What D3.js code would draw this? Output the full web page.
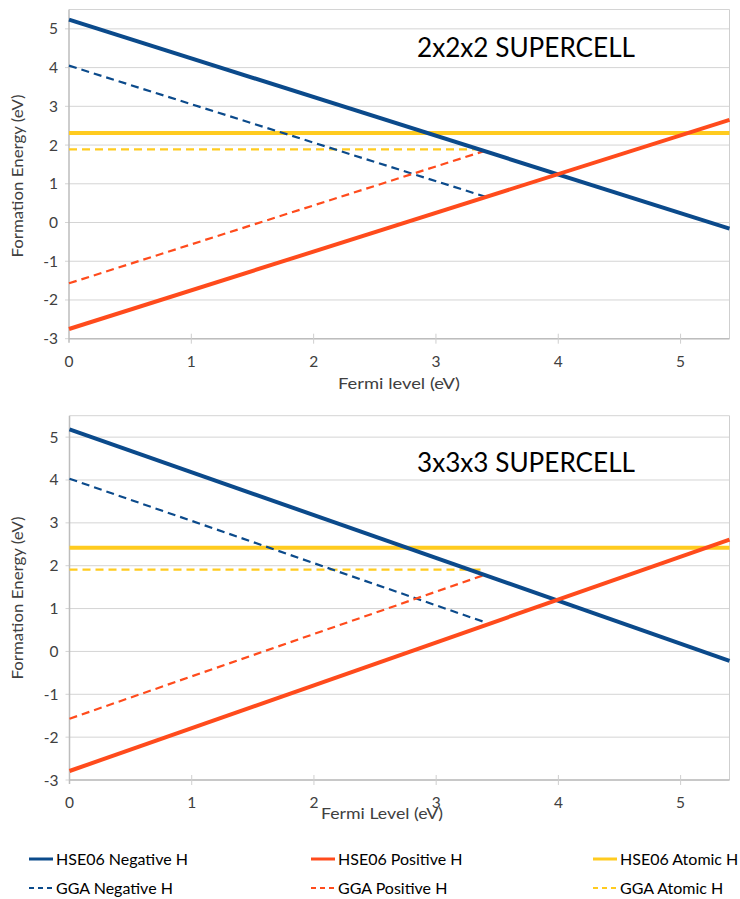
<!DOCTYPE html>
<html>
<head>
<meta charset="utf-8">
<script src="https://cdn.jsdelivr.net/npm/d3@7"></script>
<style>
  body { margin: 0; background: #fff; }
  svg { display: block; font-family: Lato, "Open Sans", sans-serif; }
</style>
</head>
<body>
<div id="chart"></div>
<script>
// x = Fermi level (eV), y = formation energy (eV)
const xTicks = [0, 1, 2, 3, 4, 5]
const yTicks = [-3, -2, -1, 0, 1, 2, 3, 4, 5]

// 2x2x2 supercell
const top_hseNeg = [[0, 5.24], [5.4, -0.16]]
const top_hsePos = [[0, -2.75], [5.4, 2.65]]
const top_hseAtom = [[0, 2.31], [5.4, 2.31]]
const top_ggaNeg = [[0, 4.05], [3.4, 0.67]]
const top_ggaPos = [[0, -1.57], [3.4, 1.85]]
const top_ggaAtom = [[0, 1.89], [3.4, 1.89]]

// 3x3x3 supercell
const bot_hseNeg = [[0, 5.18], [5.4, -0.22]]
const bot_hsePos = [[0, -2.79], [5.4, 2.61]]
const bot_hseAtom = [[0, 2.42], [5.4, 2.42]]
const bot_ggaNeg = [[0, 4.03], [3.4, 0.68]]
const bot_ggaPos = [[0, -1.57], [3.4, 1.79]]
const bot_ggaAtom = [[0, 1.91], [3.4, 1.91]]

const legendItems = [
  { name: "HSE06 Negative H", color: "#0b4a8b", dash: null },
  { name: "HSE06 Positive H", color: "#ff4b1c", dash: null },
  { name: "HSE06 Atomic H", color: "#ffcb1f", dash: null },
  { name: "GGA Negative H", color: "#0b4a8b", dash: "8,5" },
  { name: "GGA Positive H", color: "#ff4b1c", dash: "8,5" },
  { name: "GGA Atomic H", color: "#ffcb1f", dash: "8,5" },
]

const width = 740
const height = 899

const svg = d3
  .select("#chart")
  .append("svg")
  .attr("width", width)
  .attr("height", height)

function drawPanel(p) {
  const x = d3.scaleLinear().domain([0, 5.4]).range([p.left, p.right])
  const y = d3.scaleLinear().domain([-3, 5.5]).range([p.bottom, p.top])
  const g = svg.append("g")

  // gridlines
  g.selectAll("line.grid")
    .data(yTicks.concat([5.5]))
    .enter()
    .append("line")
    .attr("x1", d => (d === 5.5 ? p.left : p.left - 4))
    .attr("x2", p.right)
    .attr("y1", d => y(d))
    .attr("y2", d => y(d))
    .attr("stroke", "#d4d4d4")
    .attr("stroke-width", 1)

  // right border
  g.append("line")
    .attr("x1", p.right).attr("x2", p.right)
    .attr("y1", p.top).attr("y2", p.bottom)
    .attr("stroke", "#cfcfcf")

  // axes lines
  g.append("line")
    .attr("x1", p.left).attr("x2", p.left)
    .attr("y1", p.top).attr("y2", p.bottom + 4)
    .attr("stroke", "#bdbdbd").attr("stroke-width", 1.5)
  g.append("line")
    .attr("x1", p.left).attr("x2", p.right)
    .attr("y1", p.bottom).attr("y2", p.bottom)
    .attr("stroke", "#bdbdbd").attr("stroke-width", 1.5)

  // x tick marks
  g.selectAll("line.xt")
    .data(xTicks.slice(1))
    .enter()
    .append("line")
    .attr("x1", d => x(d)).attr("x2", d => x(d))
    .attr("y1", p.bottom - 5).attr("y2", p.bottom + 5)
    .attr("stroke", "#cfcfcf")

  g.selectAll("text.xl")
    .data(xTicks)
    .enter()
    .append("text")
    .attr("x", d => x(d))
    .attr("y", p.bottom + 28)
    .attr("text-anchor", "middle")
    .attr("font-size", 15.5)
    .attr("fill", "#404040")
    .text(d => d)

  g.selectAll("text.yl")
    .data(yTicks)
    .enter()
    .append("text")
    .attr("x", p.left - 11)
    .attr("y", d => y(d) + 5.5)
    .attr("text-anchor", "end")
    .attr("font-size", 15.5)
    .attr("fill", "#404040")
    .text(d => d)

  // axis titles
  g.append("text")
    .attr("x", p.xTitleX)
    .attr("y", p.xTitleY)
    .attr("text-anchor", "middle")
    .attr("font-size", 15)
    .attr("fill", "#404040")
    .attr("textLength", 122)
    .attr("lengthAdjust", "spacingAndGlyphs")
    .text(p.xTitle)

  g.append("text")
    .attr("transform", `translate(23, ${p.yTitleY}) rotate(-90)`)
    .attr("text-anchor", "middle")
    .attr("font-size", 15)
    .attr("fill", "#404040")
    .attr("textLength", 163)
    .attr("lengthAdjust", "spacingAndGlyphs")
    .text("Formation Energy (eV)")

  // series
  const line = d3.line().x(d => x(d[0])).y(d => y(d[1]))
  const series = [
    { data: p.hseAtom, item: legendItems[2], w: 4 },
    { data: p.ggaAtom, item: legendItems[5], w: 2.2 },
    { data: p.ggaNeg, item: legendItems[3], w: 2.2 },
    { data: p.ggaPos, item: legendItems[4], w: 2.2 },
    { data: p.hseNeg, item: legendItems[0], w: 4 },
    { data: p.hsePos, item: legendItems[1], w: 4 },
  ]
  g.selectAll("path.s")
    .data(series)
    .enter()
    .append("path")
    .attr("d", d => line(d.data))
    .attr("fill", "none")
    .attr("stroke", d => d.item.color)
    .attr("stroke-width", d => d.w)
    .attr("stroke-dasharray", d => d.item.dash)

  // panel title
  g.append("text")
    .attr("x", 417)
    .attr("y", p.titleY)
    .attr("font-size", 26)
    .attr("fill", "#000")
    .attr("textLength", 218)
    .attr("lengthAdjust", "spacingAndGlyphs")
    .text(p.title)
}

drawPanel({
  left: 69, right: 729.5, top: 9.5, bottom: 338.7,
  title: "2x2x2 SUPERCELL", titleY: 57,
  xTitle: "Fermi level (eV)", xTitleX: 399, xTitleY: 389, yTitleY: 176,
  hseNeg: top_hseNeg, hsePos: top_hsePos, hseAtom: top_hseAtom,
  ggaNeg: top_ggaNeg, ggaPos: top_ggaPos, ggaAtom: top_ggaAtom,
})

drawPanel({
  left: 69.5, right: 729.5, top: 415.7, bottom: 780,
  title: "3x3x3 SUPERCELL", titleY: 472,
  xTitle: "Fermi Level (eV)", xTitleX: 382, xTitleY: 819, yTitleY: 598,
  hseNeg: bot_hseNeg, hsePos: bot_hsePos, hseAtom: bot_hseAtom,
  ggaNeg: bot_ggaNeg, ggaPos: bot_ggaPos, ggaAtom: bot_ggaAtom,
})

// legend
const legend = svg.append("g")
const colX = [29, 311, 593]
const rowY = [859, 888]
legendItems.forEach((d, i) => {
  const cx = colX[i % 3]
  const cy = rowY[Math.floor(i / 3)]
  legend.append("line")
    .attr("x1", cx).attr("x2", cx + 24)
    .attr("y1", cy).attr("y2", cy)
    .attr("stroke", d.color)
    .attr("stroke-width", d.dash ? 2 : 3)
    .attr("stroke-dasharray", d.dash ? "5,4" : null)
  legend.append("text")
    .attr("x", cx + 27)
    .attr("y", cy + 5.5)
    .attr("font-size", 16)
    .attr("fill", "#000")
    .text(d.name)
})
</script>
</body>
</html>
